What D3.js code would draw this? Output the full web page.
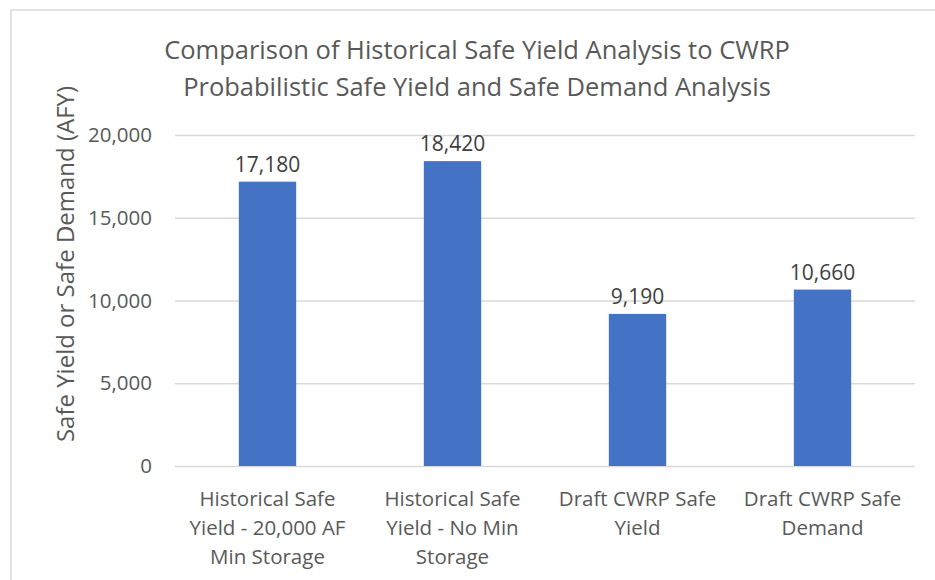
<!DOCTYPE html>
<meta charset="utf-8">
<style>
    body { margin: 0; background: #fff; }
    svg { display: block; font-family: "Open Sans", "Noto Sans", sans-serif; }
</style>

<script src="https://d3js.org/d3.v7.min.js"></script>

<svg id="chart" width="935" height="580"></svg>

<script>

// Data

var categories = [
    ["Historical Safe", "Yield - 20,000 AF", "Min Storage"],
    ["Historical Safe", "Yield - No Min", "Storage"],
    ["Draft CWRP Safe", "Yield"],
    ["Draft CWRP Safe", "Demand"]
];
var values = [17180, 18420, 9190, 10660];
var yTicks = [0, 5000, 10000, 15000, 20000];
var titleLines = [
    "Comparison of Historical Safe Yield Analysis to CWRP",
    "Probabilistic Safe Yield and Safe Demand Analysis"
];
var yLabel = "Safe Yield or Safe Demand (AFY)";


// Setup

var svg = d3.select('svg#chart');
var textColor = '#595959';

var plot = { left: 175, right: 915, top: 135, bottom: 466 };

// chart border (runs off the right and bottom of the picture)
svg.append('rect')
    .attr('x', 11).attr('y', 10)
    .attr('width', 940).attr('height', 600)
    .attr('fill', 'none')
    .attr('stroke', '#d9d9d9')
    .attr('stroke-width', 1.5);

var x = d3.scaleBand()
    .domain(d3.range(values.length))
    .range([plot.left, plot.right])
    .paddingInner(0.69)
    .paddingOuter(0.345);

var y = d3.scaleLinear()
    .domain([0, 20000])
    .range([plot.bottom, plot.top]);


// Gridlines + y tick labels

var yAxis = svg.append('g')
    .attr('transform', 'translate(' + plot.left + ',0)')
    .call(d3.axisLeft(y)
        .tickValues(yTicks)
        .tickSize(-(plot.right - plot.left))
        .tickPadding(23)
        .tickFormat(d3.format(',')));

yAxis.select('.domain').remove();
yAxis.selectAll('.tick line')
    .attr('stroke', '#d9d9d9')
    .attr('stroke-width', 1.5);
yAxis.selectAll('.tick text')
    .attr('fill', textColor)
    .style('font-size', '20.5px')
    .style('font-family', '"Open Sans", "Noto Sans", sans-serif');


// Bars

svg.selectAll('rect.bar')
    .data(values)
    .enter()
    .append('rect')
    .attr('class', 'bar')
    .attr('x', function (d, i) { return x(i); })
    .attr('y', function (d) { return y(d); })
    .attr('width', x.bandwidth())
    .attr('height', function (d) { return y(0) - y(d); })
    .attr('fill', '#4472c4');

svg.selectAll('text.value')
    .data(values)
    .enter()
    .append('text')
    .attr('class', 'value')
    .attr('x', function (d, i) { return x(i) + x.bandwidth() / 2; })
    .attr('y', function (d) { return y(d) - 10; })
    .attr('text-anchor', 'middle')
    .attr('fill', '#404040')
    .style('font-size', '21px')
    .text(function (d) { return d3.format(',')(d); });


// Category labels

svg.selectAll('text.cat')
    .data(categories)
    .enter()
    .append('text')
    .attr('class', 'cat')
    .attr('text-anchor', 'middle')
    .attr('fill', textColor)
    .style('font-size', '20.5px')
    .each(function (lines, i) {
        d3.select(this).selectAll('tspan')
            .data(lines)
            .enter()
            .append('tspan')
            .attr('x', x(i) + x.bandwidth() / 2)
            .attr('y', function (d, j) { return 506 + j * 28.8; })
            .text(function (d) { return d; });
    });


// Title and axis label

svg.append('text')
    .attr('text-anchor', 'middle')
    .attr('fill', textColor)
    .style('font-size', '25.5px')
    .selectAll('tspan')
    .data(titleLines)
    .enter()
    .append('tspan')
    .attr('x', 477)
    .attr('y', function (d, j) { return 59 + j * 37; })
    .text(function (d) { return d; });

svg.append('text')
    .attr('transform', 'translate(74,264) rotate(-90)')
    .attr('text-anchor', 'middle')
    .attr('fill', textColor)
    .style('font-size', '24px')
    .text(yLabel);

</script>
